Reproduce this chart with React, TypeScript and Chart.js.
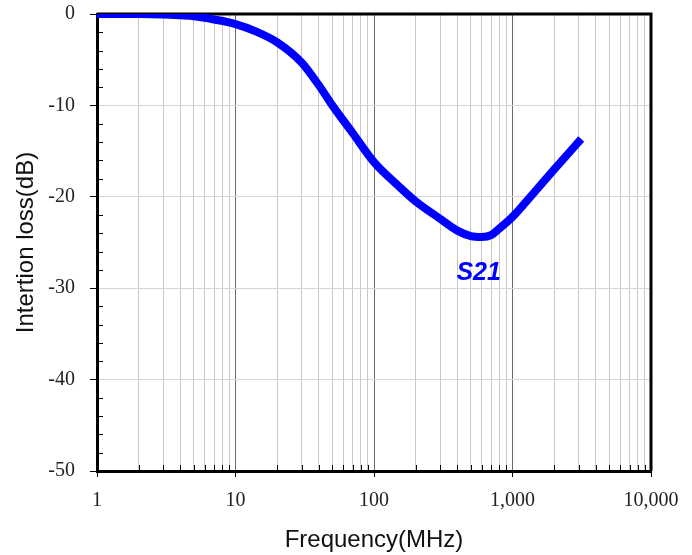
import React, { useEffect, useRef } from "react";
import { Chart, registerables } from "chart.js";

Chart.register(...registerables);

// Frequency (MHz) and measured S21 insertion loss (dB)
const FREQ_MHZ = [1, 1.5, 2, 3, 4, 5, 7, 10, 14, 20, 30, 40, 50, 70, 100, 150, 200, 300, 400, 500, 600, 700, 800, 1000, 1400, 2000, 3000];
const S21_DB = [0, 0, 0, -0.05, -0.15, -0.25, -0.6, -1.1, -1.9, -3.1, -5.3, -7.8, -10.0, -13.0, -16.2, -18.8, -20.5, -22.4, -23.7, -24.3, -24.4, -24.2, -23.5, -22.2, -19.7, -17.0, -14.0];

// Axis ticks
const X_DECADES = [1, 10, 100, 1000, 10000];
const X_LABELS = ["1", "10", "100", "1,000", "10,000"];
const X_SIGNIFICANDS = [1, 2, 3, 4, 5, 6, 7, 8, 9];
const Y_MIN = -50;
const Y_MAX = 0;
const Y_MINOR_STEP = 2;
const Y_MAJOR_STEP = 10;

const SERIES_LABEL = "S21";
const SERIES_LABEL_FREQ = 570;
const SERIES_LABEL_DB = -28.4;

const BLUE = "#0000ff";
const SANS = '"Liberation Sans", Arial, sans-serif';
const SERIF = '"Liberation Serif", "Times New Roman", serif';

const isDecade = (v: number) => X_DECADES.some((d) => Math.abs(d - v) < 1e-9);
const isMajorY = (v: number) => Math.abs(v % Y_MAJOR_STEP) < 1e-9;

const framePlugin = {
  id: "frameAndMinorTicks",
  beforeDatasetsDraw(chart: any) {
    const { ctx, chartArea, scales } = chart;
    const { left, right, top, bottom } = chartArea;
    ctx.save();
    ctx.strokeStyle = "#000";
    ctx.lineWidth = 1;
    scales.y.ticks.forEach((t: any) => {
      if (isMajorY(t.value)) return;
      const y = Math.round(scales.y.getPixelForValue(t.value)) + 0.5;
      ctx.beginPath();
      ctx.moveTo(left, y);
      ctx.lineTo(left + 6, y);
      ctx.stroke();
    });
    scales.x.ticks.forEach((t: any) => {
      if (isDecade(t.value)) return;
      const x = Math.round(scales.x.getPixelForValue(t.value)) + 0.5;
      ctx.beginPath();
      ctx.moveTo(x, bottom);
      ctx.lineTo(x, bottom - 6);
      ctx.stroke();
    });
    ctx.lineWidth = 3;
    ctx.beginPath();
    ctx.moveTo(left, top);
    ctx.lineTo(right, top);
    ctx.lineTo(right, bottom);
    ctx.stroke();
    ctx.restore();
  },
  afterDatasetsDraw(chart: any) {
    const { ctx, scales } = chart;
    const x = scales.x.getPixelForValue(SERIES_LABEL_FREQ);
    const y = scales.y.getPixelForValue(SERIES_LABEL_DB);
    ctx.save();
    ctx.fillStyle = BLUE;
    ctx.font = `italic bold 25px ${SANS}`;
    ctx.textAlign = "center";
    ctx.textBaseline = "middle";
    ctx.fillText(SERIES_LABEL, x, y);
    ctx.restore();
  },
};

export default function App() {
  const canvasRef = useRef<HTMLCanvasElement | null>(null);

  useEffect(() => {
    if (!canvasRef.current) return;
    const xTickValues: number[] = [];
    for (let i = 0; i < X_DECADES.length - 1; i++) {
      X_SIGNIFICANDS.forEach((s) => xTickValues.push(s * X_DECADES[i]));
    }
    xTickValues.push(X_DECADES[X_DECADES.length - 1]);

    const chart = new Chart(canvasRef.current, {
      type: "line",
      data: {
        datasets: [
          {
            label: SERIES_LABEL,
            data: FREQ_MHZ.map((f, i) => ({ x: f, y: S21_DB[i] })),
            borderColor: BLUE,
            backgroundColor: BLUE,
            borderWidth: 8,
            pointRadius: 0,
            cubicInterpolationMode: "monotone",
            borderCapStyle: "square",
            borderJoinStyle: "round",
          },
        ],
      },
      plugins: [framePlugin],
      options: {
        responsive: false,
        animation: false,
        devicePixelRatio: 1,
        layout: { padding: { left: 0, top: 14, right: 41, bottom: 0 } },
        plugins: { legend: { display: false }, tooltip: { enabled: false } },
        scales: {
          x: {
            type: "logarithmic",
            min: X_DECADES[0],
            max: X_DECADES[X_DECADES.length - 1],
            afterBuildTicks: (scale: any) => {
              scale.ticks = xTickValues.map((v) => ({ value: v, major: isDecade(v) }));
            },
            afterFit: (scale: any) => {
              scale.height = 84;
              scale.paddingLeft = 0;
              scale.paddingRight = 0;
            },
            ticks: {
              autoSkip: false,
              maxRotation: 0,
              minRotation: 0,
              padding: 12,
              color: "#222",
              font: { family: SERIF, size: 20 },
              callback: (value: any) => {
                const idx = X_DECADES.findIndex((d) => Math.abs(d - Number(value)) < 1e-9);
                return idx >= 0 ? X_LABELS[idx] : "";
              },
            },
            grid: {
              color: (ctx: any) => (ctx.tick && isDecade(ctx.tick.value) ? "#6a6a6a" : "#c8c8c8"),
              lineWidth: 1,
              tickLength: 6,
              tickColor: (ctx: any) => (ctx.tick && isDecade(ctx.tick.value) ? "#000" : "rgba(0,0,0,0)"),
            },
            border: { color: "#000", width: 3 },
            title: {
              display: true,
              text: "Frequency(MHz)",
              color: "#111",
              font: { family: SANS, size: 24 },
              padding: { top: 0, bottom: 0 },
            },
          },
          y: {
            type: "linear",
            min: Y_MIN,
            max: Y_MAX,
            afterFit: (scale: any) => {
              scale.width = 97;
              scale.paddingTop = 0;
              scale.paddingBottom = 0;
            },
            ticks: {
              stepSize: Y_MINOR_STEP,
              autoSkip: false,
              padding: 15,
              color: "#222",
              font: { family: SERIF, size: 20 },
              callback: (value: any) => (isMajorY(Number(value)) ? String(value) : ""),
            },
            grid: {
              color: (ctx: any) => (ctx.tick && isMajorY(ctx.tick.value) ? "#d4d4d4" : "rgba(0,0,0,0)"),
              lineWidth: 1,
              tickLength: 7,
              tickColor: (ctx: any) => (ctx.tick && isMajorY(ctx.tick.value) ? "#000" : "rgba(0,0,0,0)"),
            },
            border: { color: "#000", width: 3 },
            title: {
              display: true,
              text: "Intertion loss(dB)",
              color: "#111",
              font: { family: SANS, size: 24 },
              padding: { top: 12, bottom: 0 },
            },
          },
        },
      },
    } as any);
    return () => chart.destroy();
  }, []);

  return (
    <div style={{ position: "fixed", left: 0, top: 0, width: 692, height: 555, background: "#fff" }}>
      <canvas ref={canvasRef} width={692} height={555} style={{ display: "block" }} />
    </div>
  );
}
